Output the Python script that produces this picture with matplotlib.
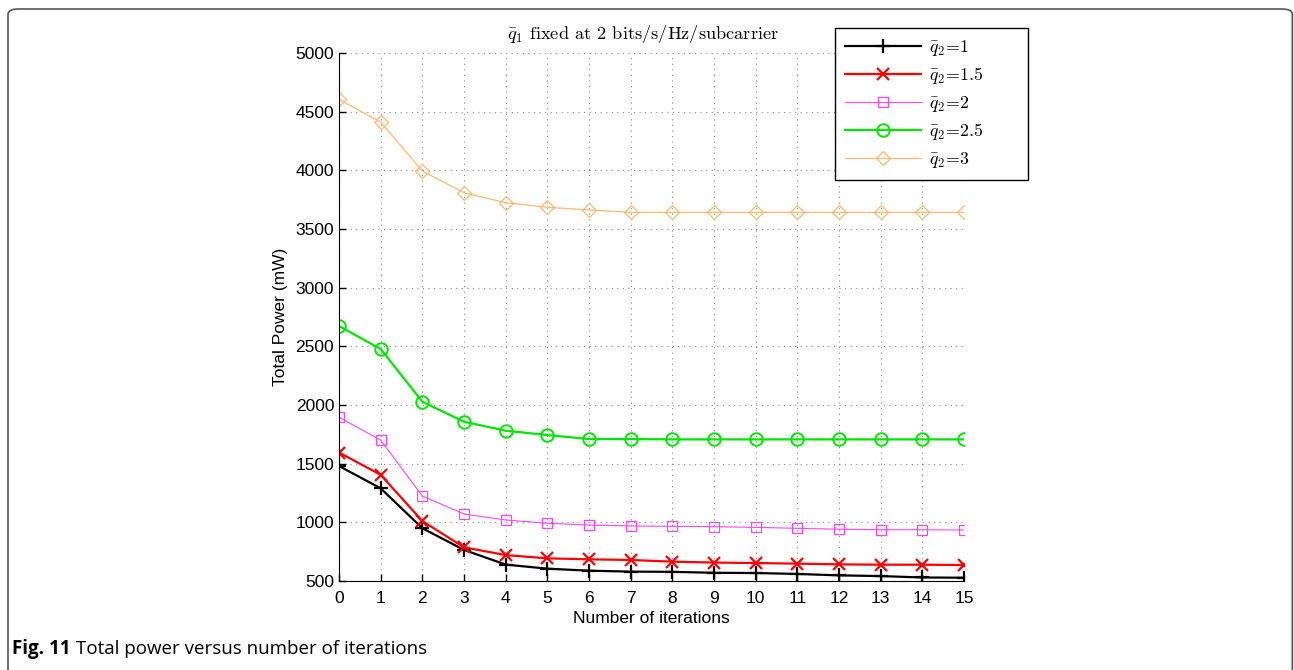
import matplotlib
matplotlib.use("Agg")
import matplotlib.pyplot as plt
from matplotlib.patches import FancyBboxPatch

iterations = list(range(16))
q2_1 = [1480, 1290, 950, 765, 640, 605, 588, 580, 578, 570, 568, 560, 548, 542, 530, 528]
q2_15 = [1595, 1405, 1011, 787, 721, 693, 685, 679, 665, 657, 653, 648, 642, 639, 639, 636]
q2_2 = [1895, 1701, 1224, 1071, 1020, 992, 977, 969, 966, 963, 957, 949, 941, 937, 937, 934]
q2_25 = [2673, 2477, 2028, 1857, 1781, 1744, 1710, 1710, 1707, 1707, 1707, 1707, 1707, 1707, 1707, 1707]
q2_3 = [4604, 4411, 3994, 3809, 3724, 3685, 3662, 3642, 3642, 3642, 3642, 3642, 3642, 3642, 3642, 3642]
labels = [r'$\bar{q}_2\!=\!1$', r'$\bar{q}_2\!=\!1.5$', r'$\bar{q}_2\!=\!2$',
          r'$\bar{q}_2\!=\!2.5$', r'$\bar{q}_2\!=\!3$']
yticks = list(range(500, 5001, 500))

plt.rcParams['font.family'] = ['Liberation Sans', 'DejaVu Sans']
plt.rcParams['mathtext.fontset'] = 'cm'

fig = plt.figure(figsize=(12.94, 6.70), dpi=100)
ax = fig.add_axes([339/1294, 1-581/670, 625/1294, 528/670])

styles = [
    dict(color='black', lw=1.6, marker='+', ms=10, mew=1.6),
    dict(color='#ff0000', lw=1.6, marker='x', ms=8, mew=1.6),
    dict(color='#ff44ff', lw=0.8, marker='s', ms=7, mew=0.9, mfc='none'),
    dict(color='#00e600', lw=1.6, marker='o', ms=9, mew=1.4, mfc='none'),
    dict(color='#ffb870', lw=0.9, marker='D', ms=7, mew=0.9, mfc='none'),
]
for data, lab, st in zip([q2_1, q2_15, q2_2, q2_25, q2_3], labels, styles):
    ax.plot(iterations, data, label=lab, **st)

ax.set_xlim(0, 15)
ax.set_ylim(500, 5000)
ax.set_xticks(iterations)
ax.set_yticks(yticks)
ax.tick_params(direction='in', length=5, labelsize=12.5, width=1)
ax.tick_params(axis='x', pad=7)
ax.grid(True, linestyle=(0, (1, 4)), color='#888888', lw=0.8)
ax.spines['top'].set_visible(False)
ax.spines['right'].set_visible(False)
ax.set_xlabel('Number of iterations', fontsize=12.5, labelpad=4)
ax.set_ylabel('Total Power (mW)', fontsize=12.5, labelpad=5)
ax.set_title(r'$\bar{q}_1$ fixed at 2 bits/s/Hz/subcarrier', fontsize=13.2,
             pad=10, x=0.487)
ax.title.set_fontfamily(['cmr10', 'DejaVu Serif'])

leg = ax.legend(loc='upper left', bbox_to_anchor=(0.794, 0.759, 0.309, 0.288),
                mode='expand', fontsize=12.8,
                frameon=True, fancybox=False, edgecolor='black', handlelength=4.3,
                borderpad=0.55, labelspacing=0.42, handletextpad=0.45,
                borderaxespad=0)
leg.get_frame().set_linewidth(1.0)
leg.get_frame().set_alpha(1)

frame = FancyBboxPatch((8/1294, -0.1), 1285/1294 - 0.0005, 1 - 9/670 + 0.1,
                       boxstyle='round,pad=0,rounding_size=0.008',
                       transform=fig.transFigure, fill=False,
                       edgecolor='#555555', lw=1.2, clip_on=False)
fig.patches.append(frame)

t1 = fig.text(12/1294, 1-649/670, 'Fig. 11', fontsize=13.5, fontweight='bold',
              family='Open Sans', va='center', ha='left')
fig.canvas.draw()
bb = t1.get_window_extent()
fig.text((bb.x1 + 5)/1294, 1-649/670, 'Total power versus number of iterations',
         fontsize=13.5, family='Open Sans', va='center', ha='left')

fig.savefig('out.png', dpi=100)
